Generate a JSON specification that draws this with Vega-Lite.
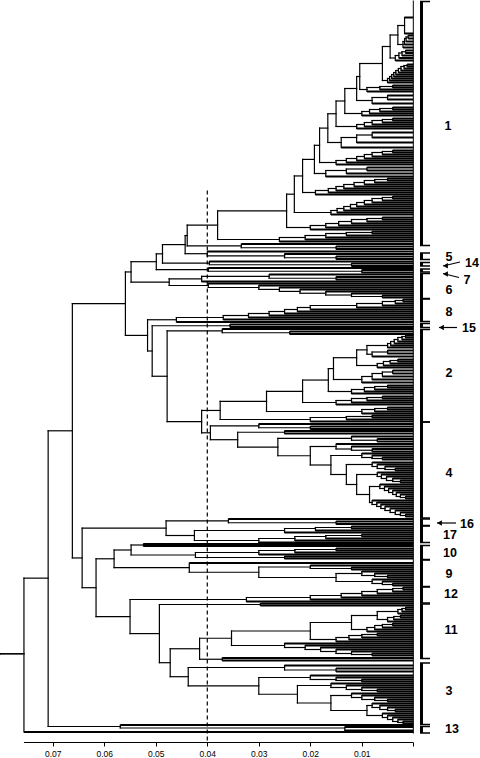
{
"$schema":"https://vega.github.io/schema/vega-lite/v6.json",
"width":480,"height":742,
"autosize":{"type":"none"},
"padding":{"left":0,"top":0,"right":0,"bottom":16},
"background":"white",
"config":{"view":{"stroke":null},"font":"Liberation Sans",
 "axisX":{"domain":false,"grid":false,"ticks":true,"tickSize":4,"tickColor":"black","tickWidth":1,"labelFontSize":8.5,"labelFont":"Liberation Sans","labelColor":"black","labelPadding":3,"labelFlush":false}},
"datasets":{
"tree":[
{"h":0.0802,"a":653.3,"b":653.3,"ha":0.0756,"hb":0.0756},
{"h":0.0756,"a":577.65,"b":731.5,"ha":0.0709,"hb":0},
{"h":0.0709,"a":430.3,"b":726,"ha":0.0662,"hb":0.0569},
{"h":0.0569,"a":724.5,"b":727.5,"ha":0,"hb":0.0133},
{"h":0.0133,"a":726.5,"b":730,"ha":0,"hb":0},
{"h":0.0662,"a":303.2,"b":557.45,"ha":0.0559,"hb":0.0643},
{"h":0.0559,"a":271.45,"b":334.9,"ha":0.0548,"hb":0.0516},
{"h":0.0548,"a":261.2,"b":281.7,"ha":0.0499,"hb":0.0474},
{"h":0.0499,"a":253.35,"b":269.1,"ha":0.0487,"hb":0.0398},
{"h":0.0487,"a":244.1,"b":262.6,"ha":0.0443,"hb":0.0396},
{"h":0.0443,"a":235.05,"b":253.2,"ha":0.0439,"hb":0.0400},
{"h":0.0439,"a":224.7,"b":245.4,"ha":0.0380,"hb":0.0334},
{"h":0.0150,"a":246,"b":248.5,"ha":0,"hb":0},
{"h":0.0334,"a":243.5,"b":247.25,"ha":0,"hb":0.0150},
{"h":0.0030,"a":25,"b":44,"ha":0.0017,"hb":0.0020},
{"h":0.0045,"a":34.5,"b":57.5,"ha":0.0030,"hb":0.0035},
{"h":0.0060,"a":46,"b":80,"ha":0.0045,"hb":0.0050},
{"h":0.0104,"a":63,"b":89,"ha":0.0060,"hb":0.0090},
{"h":0.0110,"a":76,"b":100,"ha":0.0104,"hb":0.0080},
{"h":0.0133,"a":88,"b":113,"ha":0.0110,"hb":0.0100},
{"h":0.0150,"a":100.5,"b":126,"ha":0.0133,"hb":0.0110},
{"h":0.0166,"a":113.25,"b":142,"ha":0.0150,"hb":0.0140},
{"h":0.0182,"a":127.6,"b":162,"ha":0.0166,"hb":0.0150},
{"h":0.0192,"a":144.8,"b":173,"ha":0.0182,"hb":0.0170},
{"h":0.0215,"a":158.9,"b":192,"ha":0.0192,"hb":0.0190},
{"h":0.0231,"a":175.45,"b":212,"ha":0.0215,"hb":0.0160},
{"h":0.0246,"a":193.7,"b":227,"ha":0.0231,"hb":0.0200},
{"h":0.0380,"a":210.35,"b":239,"ha":0.0246,"hb":0.0260},
{"h":0.0017,"a":17,"b":33,"ha":0,"hb":0},
{"h":0.0010,"a":35,"b":38,"ha":0,"hb":0},
{"h":0.0014,"a":36.5,"b":41,"ha":0.0010,"hb":0},
{"h":0.0017,"a":38,"b":44,"ha":0.0014,"hb":0},
{"h":0.0020,"a":41,"b":47,"ha":0.0017,"hb":0},
{"h":0.0015,"a":50,"b":52.5,"ha":0,"hb":0},
{"h":0.0022,"a":51.25,"b":55,"ha":0.0015,"hb":0},
{"h":0.0028,"a":52.5,"b":57.5,"ha":0.0022,"hb":0},
{"h":0.0035,"a":55,"b":60,"ha":0.0028,"hb":0},
{"h":0.0012,"a":64,"b":66,"ha":0,"hb":0},
{"h":0.0018,"a":65,"b":68,"ha":0.0012,"hb":0},
{"h":0.0024,"a":66,"b":70,"ha":0.0018,"hb":0},
{"h":0.0029,"a":68,"b":72,"ha":0.0024,"hb":0},
{"h":0.0034,"a":70,"b":74,"ha":0.0029,"hb":0},
{"h":0.0038,"a":72,"b":76,"ha":0.0034,"hb":0},
{"h":0.0042,"a":74,"b":78,"ha":0.0038,"hb":0},
{"h":0.0046,"a":76,"b":80,"ha":0.0042,"hb":0},
{"h":0.0050,"a":78,"b":82,"ha":0.0046,"hb":0},
{"h":0.0040,"a":85,"b":87,"ha":0,"hb":0},
{"h":0.0065,"a":86,"b":89,"ha":0.0040,"hb":0},
{"h":0.0090,"a":87,"b":91,"ha":0.0065,"hb":0},
{"h":0.0050,"a":95,"b":99,"ha":0,"hb":0},
{"h":0.0080,"a":97,"b":103,"ha":0.0050,"hb":0},
{"h":0.0040,"a":107,"b":109,"ha":0,"hb":0},
{"h":0.0065,"a":108,"b":111,"ha":0.0040,"hb":0},
{"h":0.0085,"a":109,"b":113,"ha":0.0065,"hb":0},
{"h":0.0100,"a":111,"b":115,"ha":0.0085,"hb":0},
{"h":0.0040,"a":118,"b":120,"ha":0,"hb":0},
{"h":0.0060,"a":119,"b":122,"ha":0.0040,"hb":0},
{"h":0.0080,"a":120,"b":124,"ha":0.0060,"hb":0},
{"h":0.0095,"a":122,"b":126,"ha":0.0080,"hb":0},
{"h":0.0110,"a":124,"b":128,"ha":0.0095,"hb":0},
{"h":0.0080,"a":132,"b":137,"ha":0,"hb":0},
{"h":0.0110,"a":134.5,"b":142,"ha":0.0080,"hb":0},
{"h":0.0140,"a":137,"b":147,"ha":0.0110,"hb":0},
{"h":0.0040,"a":150,"b":152,"ha":0,"hb":0},
{"h":0.0060,"a":151,"b":154,"ha":0.0040,"hb":0},
{"h":0.0080,"a":152,"b":156,"ha":0.0060,"hb":0},
{"h":0.0095,"a":154,"b":158,"ha":0.0080,"hb":0},
{"h":0.0110,"a":156,"b":160,"ha":0.0095,"hb":0},
{"h":0.0130,"a":158,"b":162,"ha":0.0110,"hb":0},
{"h":0.0150,"a":160,"b":164,"ha":0.0130,"hb":0},
{"h":0.0090,"a":167,"b":170,"ha":0,"hb":0},
{"h":0.0130,"a":168.5,"b":173,"ha":0.0090,"hb":0},
{"h":0.0170,"a":170,"b":176,"ha":0.0130,"hb":0},
{"h":0.0050,"a":178,"b":180,"ha":0,"hb":0},
{"h":0.0075,"a":179,"b":182,"ha":0.0050,"hb":0},
{"h":0.0095,"a":180,"b":184,"ha":0.0075,"hb":0},
{"h":0.0115,"a":182,"b":186,"ha":0.0095,"hb":0},
{"h":0.0135,"a":184,"b":188,"ha":0.0115,"hb":0},
{"h":0.0150,"a":186,"b":190,"ha":0.0135,"hb":0},
{"h":0.0165,"a":188,"b":192,"ha":0.0150,"hb":0},
{"h":0.0190,"a":190,"b":194,"ha":0.0165,"hb":0},
{"h":0.0040,"a":196,"b":198,"ha":0,"hb":0},
{"h":0.0060,"a":197,"b":200,"ha":0.0040,"hb":0},
{"h":0.0080,"a":198,"b":202,"ha":0.0060,"hb":0},
{"h":0.0095,"a":200,"b":204,"ha":0.0080,"hb":0},
{"h":0.0110,"a":202,"b":206,"ha":0.0095,"hb":0},
{"h":0.0122,"a":204,"b":208,"ha":0.0110,"hb":0},
{"h":0.0135,"a":206,"b":210,"ha":0.0122,"hb":0},
{"h":0.0148,"a":208,"b":212,"ha":0.0135,"hb":0},
{"h":0.0160,"a":210,"b":214,"ha":0.0148,"hb":0},
{"h":0.0060,"a":217,"b":219,"ha":0,"hb":0},
{"h":0.0090,"a":218,"b":221,"ha":0.0060,"hb":0},
{"h":0.0120,"a":219,"b":223,"ha":0.0090,"hb":0},
{"h":0.0145,"a":221,"b":225,"ha":0.0120,"hb":0},
{"h":0.0170,"a":223,"b":227,"ha":0.0145,"hb":0},
{"h":0.0200,"a":225,"b":229,"ha":0.0170,"hb":0},
{"h":0.0080,"a":231,"b":233,"ha":0,"hb":0},
{"h":0.0130,"a":232,"b":235,"ha":0.0080,"hb":0},
{"h":0.0170,"a":233,"b":237,"ha":0.0130,"hb":0},
{"h":0.0210,"a":235,"b":239,"ha":0.0170,"hb":0},
{"h":0.0260,"a":237,"b":241,"ha":0.0210,"hb":0},
{"h":0.0150,"a":256,"b":258.5,"ha":0,"hb":0},
{"h":0.0250,"a":253.5,"b":257.25,"ha":0,"hb":0.0150},
{"h":0.0400,"a":251,"b":255.4,"ha":0,"hb":0.0250},
{"h":0.0120,"a":263,"b":265.5,"ha":0,"hb":0},
{"h":0.0396,"a":261,"b":264.25,"ha":0,"hb":0.0120},
{"h":0.0100,"a":269.5,"b":272,"ha":0,"hb":0},
{"h":0.0398,"a":267.5,"b":270.75,"ha":0,"hb":0.0100},
{"h":0.0150,"a":276.5,"b":279,"ha":0,"hb":0},
{"h":0.0280,"a":274,"b":277.75,"ha":0,"hb":0.0150},
{"h":0.0411,"a":275.9,"b":281,"ha":0.0280,"hb":0},
{"h":0.0060,"a":295,"b":297,"ha":0,"hb":0},
{"h":0.0120,"a":293,"b":296,"ha":0,"hb":0.0060},
{"h":0.0170,"a":291,"b":294.5,"ha":0,"hb":0.0120},
{"h":0.0220,"a":289,"b":292.75,"ha":0,"hb":0.0170},
{"h":0.0260,"a":287,"b":290.9,"ha":0,"hb":0.0220},
{"h":0.0300,"a":285,"b":288.9,"ha":0,"hb":0.0260},
{"h":0.0398,"a":283,"b":287,"ha":0,"hb":0.0300},
{"h":0.0474,"a":278.45,"b":285,"ha":0.0411,"hb":0.0398},
{"h":0.0020,"a":299,"b":301,"ha":0,"hb":0},
{"h":0.0035,"a":300,"b":303,"ha":0.0020,"hb":0},
{"h":0.0060,"a":301,"b":305,"ha":0.0035,"hb":0},
{"h":0.0110,"a":303,"b":307,"ha":0.0060,"hb":0},
{"h":0.0200,"a":305,"b":309,"ha":0.0110,"hb":0},
{"h":0.0225,"a":307,"b":311,"ha":0.0200,"hb":0},
{"h":0.0250,"a":309,"b":313,"ha":0.0225,"hb":0},
{"h":0.0280,"a":311,"b":315,"ha":0.0250,"hb":0},
{"h":0.0320,"a":313,"b":317,"ha":0.0280,"hb":0},
{"h":0.0369,"a":315,"b":319,"ha":0.0320,"hb":0},
{"h":0.0460,"a":317,"b":321.5,"ha":0.0369,"hb":0},
{"h":0.0356,"a":324,"b":326.5,"ha":0,"hb":0},
{"h":0.0240,"a":331,"b":333.5,"ha":0,"hb":0},
{"h":0.0371,"a":328.5,"b":332.25,"ha":0,"hb":0.0240},
{"h":0.0516,"a":319.25,"b":350.5,"ha":0.0460,"hb":0.0507},
{"h":0.0507,"a":325.25,"b":375.75,"ha":0.0356,"hb":0.0478},
{"h":0.0478,"a":330.4,"b":421.1,"ha":0.0371,"hb":0.0411},
{"h":0.0411,"a":409.95,"b":432.3,"ha":0.0375,"hb":0.0394},
{"h":0.0015,"a":335,"b":337,"ha":0,"hb":0},
{"h":0.0022,"a":336,"b":339,"ha":0.0015,"hb":0},
{"h":0.0030,"a":337,"b":341,"ha":0.0022,"hb":0},
{"h":0.0037,"a":339,"b":343,"ha":0.0030,"hb":0},
{"h":0.0044,"a":341,"b":345,"ha":0.0037,"hb":0},
{"h":0.0050,"a":343,"b":347,"ha":0.0044,"hb":0},
{"h":0.0050,"a":350,"b":353,"ha":0,"hb":0},
{"h":0.0080,"a":351.5,"b":356,"ha":0.0050,"hb":0},
{"h":0.0030,"a":359,"b":361,"ha":0,"hb":0},
{"h":0.0045,"a":360,"b":363,"ha":0.0030,"hb":0},
{"h":0.0058,"a":361,"b":365,"ha":0.0045,"hb":0},
{"h":0.0070,"a":363,"b":367,"ha":0.0058,"hb":0},
{"h":0.0040,"a":370,"b":373,"ha":0,"hb":0},
{"h":0.0060,"a":371.5,"b":376,"ha":0.0040,"hb":0},
{"h":0.0080,"a":373,"b":379,"ha":0.0060,"hb":0},
{"h":0.0100,"a":376,"b":382,"ha":0.0080,"hb":0},
{"h":0.0050,"a":385,"b":387,"ha":0,"hb":0},
{"h":0.0075,"a":386,"b":389,"ha":0.0050,"hb":0},
{"h":0.0095,"a":387,"b":391,"ha":0.0075,"hb":0},
{"h":0.0120,"a":389,"b":393,"ha":0.0095,"hb":0},
{"h":0.0060,"a":396,"b":398,"ha":0,"hb":0},
{"h":0.0090,"a":397,"b":400,"ha":0.0060,"hb":0},
{"h":0.0120,"a":398,"b":402,"ha":0.0090,"hb":0},
{"h":0.0150,"a":400,"b":404,"ha":0.0120,"hb":0},
{"h":0.0050,"a":407,"b":409,"ha":0,"hb":0},
{"h":0.0075,"a":408,"b":411,"ha":0.0050,"hb":0},
{"h":0.0100,"a":409,"b":413,"ha":0.0075,"hb":0},
{"h":0.0080,"a":415,"b":417,"ha":0,"hb":0},
{"h":0.0130,"a":416,"b":419,"ha":0.0080,"hb":0},
{"h":0.0200,"a":417,"b":421,"ha":0.0130,"hb":0},
{"h":0.0090,"a":345,"b":353.75,"ha":0.0050,"hb":0.0080},
{"h":0.0110,"a":349.4,"b":365,"ha":0.0090,"hb":0.0070},
{"h":0.0155,"a":357.2,"b":379,"ha":0.0110,"hb":0.0100},
{"h":0.0165,"a":368.1,"b":391,"ha":0.0155,"hb":0.0120},
{"h":0.0215,"a":379.55,"b":402,"ha":0.0165,"hb":0.0150},
{"h":0.0285,"a":390.8,"b":411,"ha":0.0215,"hb":0.0100},
{"h":0.0375,"a":400.9,"b":419,"ha":0.0285,"hb":0.0200},
{"h":0.0200,"a":426,"b":428.5,"ha":0,"hb":0},
{"h":0.0300,"a":423.5,"b":427.25,"ha":0,"hb":0.0200},
{"h":0.0250,"a":430.5,"b":433,"ha":0,"hb":0},
{"h":0.0070,"a":438.5,"b":441,"ha":0,"hb":0},
{"h":0.0120,"a":436,"b":439.75,"ha":0,"hb":0.0070},
{"h":0.0080,"a":448.5,"b":451,"ha":0,"hb":0},
{"h":0.0120,"a":446,"b":449.75,"ha":0,"hb":0.0080},
{"h":0.0150,"a":443.5,"b":448.5,"ha":0,"hb":0.0120},
{"h":0.0060,"a":457,"b":459,"ha":0,"hb":0},
{"h":0.0080,"a":455,"b":458,"ha":0,"hb":0.0060},
{"h":0.0100,"a":453,"b":457,"ha":0,"hb":0.0080},
{"h":0.0035,"a":468,"b":470,"ha":0,"hb":0},
{"h":0.0055,"a":466,"b":469,"ha":0,"hb":0.0035},
{"h":0.0070,"a":464,"b":468,"ha":0,"hb":0.0055},
{"h":0.0080,"a":462,"b":466,"ha":0,"hb":0.0070},
{"h":0.0025,"a":480,"b":482,"ha":0,"hb":0},
{"h":0.0040,"a":478,"b":481,"ha":0,"hb":0.0025},
{"h":0.0052,"a":476,"b":480,"ha":0,"hb":0.0040},
{"h":0.0062,"a":474,"b":478,"ha":0,"hb":0.0052},
{"h":0.0070,"a":472,"b":476,"ha":0,"hb":0.0062},
{"h":0.0015,"a":496,"b":498,"ha":0,"hb":0},
{"h":0.0025,"a":494,"b":497,"ha":0,"hb":0.0015},
{"h":0.0033,"a":492,"b":496,"ha":0,"hb":0.0025},
{"h":0.0040,"a":490,"b":494,"ha":0,"hb":0.0033},
{"h":0.0048,"a":488,"b":492,"ha":0,"hb":0.0040},
{"h":0.0056,"a":486,"b":490,"ha":0,"hb":0.0048},
{"h":0.0065,"a":484,"b":488,"ha":0,"hb":0.0056},
{"h":0.0015,"a":514,"b":516,"ha":0,"hb":0},
{"h":0.0025,"a":512,"b":515,"ha":0,"hb":0.0015},
{"h":0.0035,"a":510,"b":514,"ha":0,"hb":0.0025},
{"h":0.0045,"a":508,"b":512,"ha":0,"hb":0.0035},
{"h":0.0055,"a":506,"b":510,"ha":0,"hb":0.0045},
{"h":0.0063,"a":504,"b":508,"ha":0,"hb":0.0055},
{"h":0.0071,"a":502,"b":506,"ha":0,"hb":0.0063},
{"h":0.0080,"a":500,"b":504,"ha":0,"hb":0.0071},
{"h":0.0085,"a":486,"b":502,"ha":0.0065,"hb":0.0080},
{"h":0.0110,"a":474,"b":494,"ha":0.0070,"hb":0.0085},
{"h":0.0130,"a":464,"b":484,"ha":0.0080,"hb":0.0110},
{"h":0.0160,"a":455,"b":474,"ha":0.0100,"hb":0.0130},
{"h":0.0200,"a":446,"b":464.5,"ha":0.0150,"hb":0.0160},
{"h":0.0263,"a":437.9,"b":455.25,"ha":0.0120,"hb":0.0200},
{"h":0.0341,"a":431.75,"b":446.6,"ha":0.0250,"hb":0.0263},
{"h":0.0394,"a":425.4,"b":439.2,"ha":0.0300,"hb":0.0341},
{"h":0.0643,"a":527.7,"b":587.2,"ha":0.0480,"hb":0.0616},
{"h":0.0480,"a":520.4,"b":535,"ha":0.0359,"hb":0.0425},
{"h":0.0150,"a":521,"b":523.5,"ha":0,"hb":0},
{"h":0.0359,"a":518.5,"b":522.25,"ha":0,"hb":0.0150},
{"h":0.0120,"a":526,"b":528,"ha":0,"hb":0},
{"h":0.0190,"a":527,"b":530,"ha":0.0120,"hb":0},
{"h":0.0250,"a":528,"b":532,"ha":0.0190,"hb":0},
{"h":0.0100,"a":534,"b":536,"ha":0,"hb":0},
{"h":0.0170,"a":535,"b":538,"ha":0.0100,"hb":0},
{"h":0.0230,"a":536,"b":540,"ha":0.0170,"hb":0},
{"h":0.0300,"a":538,"b":542,"ha":0.0230,"hb":0},
{"h":0.0425,"a":530,"b":540,"ha":0.0250,"hb":0.0300},
{"h":0.0616,"a":558.3,"b":616.05,"ha":0.0581,"hb":0.0550},
{"h":0.0581,"a":549.5,"b":567.1,"ha":0.0548,"hb":0.0435},
{"h":0.0548,"a":544.5,"b":554.5,"ha":0.0524,"hb":0.0423},
{"h":0.0524,"a":543.5,"b":545.5,"ha":0,"hb":0},
{"h":0.0150,"a":548,"b":550,"ha":0,"hb":0},
{"h":0.0230,"a":549,"b":552,"ha":0.0150,"hb":0},
{"h":0.0300,"a":550,"b":554,"ha":0.0230,"hb":0},
{"h":0.0250,"a":556,"b":558,"ha":0,"hb":0},
{"h":0.0423,"a":552,"b":557,"ha":0.0300,"hb":0.0250},
{"h":0.0040,"a":583,"b":585,"ha":0,"hb":0},
{"h":0.0060,"a":581,"b":584,"ha":0,"hb":0.0040},
{"h":0.0080,"a":579,"b":583,"ha":0,"hb":0.0060},
{"h":0.0050,"a":575,"b":577,"ha":0,"hb":0},
{"h":0.0075,"a":573,"b":576,"ha":0,"hb":0.0050},
{"h":0.0100,"a":571,"b":575,"ha":0,"hb":0.0075},
{"h":0.0120,"a":567,"b":569,"ha":0,"hb":0},
{"h":0.0200,"a":565,"b":568,"ha":0,"hb":0.0120},
{"h":0.0150,"a":573,"b":581,"ha":0.0100,"hb":0.0080},
{"h":0.0300,"a":566.5,"b":577,"ha":0.0200,"hb":0.0150},
{"h":0.0435,"a":562.5,"b":571.75,"ha":0,"hb":0.0300},
{"h":0.0020,"a":587,"b":589,"ha":0,"hb":0},
{"h":0.0040,"a":588,"b":591,"ha":0.0020,"hb":0},
{"h":0.0070,"a":589,"b":593,"ha":0.0040,"hb":0},
{"h":0.0100,"a":591,"b":595,"ha":0.0070,"hb":0},
{"h":0.0140,"a":593,"b":597,"ha":0.0100,"hb":0},
{"h":0.0200,"a":595,"b":599,"ha":0.0140,"hb":0},
{"h":0.0324,"a":597,"b":601,"ha":0.0200,"hb":0},
{"h":0.0550,"a":599,"b":633.1,"ha":0.0324,"hb":0.0493},
{"h":0.0493,"a":604,"b":662.2,"ha":0.0297,"hb":0.0472},
{"h":0.0297,"a":603,"b":605,"ha":0,"hb":0},
{"h":0.0472,"a":648.25,"b":676.2,"ha":0.0415,"hb":0.0437},
{"h":0.0415,"a":637.75,"b":658.75,"ha":0.0353,"hb":0.0371},
{"h":0.0371,"a":657.5,"b":660,"ha":0,"hb":0},
{"h":0.0015,"a":607,"b":609,"ha":0,"hb":0},
{"h":0.0022,"a":608,"b":611,"ha":0.0015,"hb":0},
{"h":0.0030,"a":609,"b":613,"ha":0.0022,"hb":0},
{"h":0.0025,"a":615,"b":617,"ha":0,"hb":0},
{"h":0.0038,"a":616,"b":619,"ha":0.0025,"hb":0},
{"h":0.0050,"a":617,"b":621,"ha":0.0038,"hb":0},
{"h":0.0040,"a":623,"b":625,"ha":0,"hb":0},
{"h":0.0060,"a":624,"b":627,"ha":0.0040,"hb":0},
{"h":0.0075,"a":625,"b":629,"ha":0.0060,"hb":0},
{"h":0.0090,"a":627,"b":631,"ha":0.0075,"hb":0},
{"h":0.0070,"a":633,"b":635,"ha":0,"hb":0},
{"h":0.0100,"a":634,"b":637,"ha":0.0070,"hb":0},
{"h":0.0125,"a":635,"b":639,"ha":0.0100,"hb":0},
{"h":0.0150,"a":637,"b":641,"ha":0.0125,"hb":0},
{"h":0.0080,"a":653,"b":655,"ha":0,"hb":0},
{"h":0.0120,"a":651,"b":654,"ha":0,"hb":0.0080},
{"h":0.0150,"a":649,"b":653,"ha":0,"hb":0.0120},
{"h":0.0180,"a":647,"b":651,"ha":0,"hb":0.0150},
{"h":0.0210,"a":645,"b":649,"ha":0,"hb":0.0180},
{"h":0.0250,"a":643,"b":647,"ha":0,"hb":0.0210},
{"h":0.0070,"a":611,"b":619,"ha":0.0030,"hb":0.0050},
{"h":0.0120,"a":615,"b":629,"ha":0.0070,"hb":0.0090},
{"h":0.0200,"a":622,"b":639,"ha":0.0120,"hb":0.0150},
{"h":0.0353,"a":630.5,"b":645,"ha":0.0200,"hb":0.0250},
{"h":0.0020,"a":721,"b":723,"ha":0,"hb":0},
{"h":0.0030,"a":719,"b":722,"ha":0,"hb":0.0020},
{"h":0.0040,"a":717,"b":721,"ha":0,"hb":0.0030},
{"h":0.0050,"a":715,"b":719,"ha":0,"hb":0.0040},
{"h":0.0060,"a":713,"b":717,"ha":0,"hb":0.0050},
{"h":0.0035,"a":709,"b":711,"ha":0,"hb":0},
{"h":0.0050,"a":707,"b":710,"ha":0,"hb":0.0035},
{"h":0.0065,"a":705,"b":709,"ha":0,"hb":0.0050},
{"h":0.0080,"a":703,"b":707,"ha":0,"hb":0.0065},
{"h":0.0050,"a":699,"b":701,"ha":0,"hb":0},
{"h":0.0075,"a":697,"b":700,"ha":0,"hb":0.0050},
{"h":0.0100,"a":695,"b":699,"ha":0,"hb":0.0075},
{"h":0.0120,"a":693,"b":697,"ha":0,"hb":0.0100},
{"h":0.0070,"a":689,"b":691,"ha":0,"hb":0},
{"h":0.0100,"a":687,"b":690,"ha":0,"hb":0.0070},
{"h":0.0130,"a":685,"b":689,"ha":0,"hb":0.0100},
{"h":0.0160,"a":683,"b":687,"ha":0,"hb":0.0130},
{"h":0.0100,"a":679,"b":681,"ha":0,"hb":0},
{"h":0.0150,"a":677,"b":680,"ha":0,"hb":0.0100},
{"h":0.0200,"a":675,"b":679,"ha":0,"hb":0.0150},
{"h":0.0150,"a":668,"b":671,"ha":0,"hb":0},
{"h":0.0250,"a":665,"b":669.5,"ha":0,"hb":0.0150},
{"h":0.0090,"a":705,"b":715,"ha":0.0080,"hb":0.0060},
{"h":0.0160,"a":695,"b":710,"ha":0.0120,"hb":0.0090},
{"h":0.0225,"a":685,"b":702.5,"ha":0.0160,"hb":0.0160},
{"h":0.0300,"a":677,"b":693.75,"ha":0.0200,"hb":0.0225},
{"h":0.0437,"a":667,"b":685.4,"ha":0.0250,"hb":0.0300}
],
"brackets":[
{"y1":1,"y2":245},{"y1":252.5,"y2":259},{"y1":262,"y2":265.5},{"y1":268.5,"y2":271.5},{"y1":273,"y2":298},{"y1":298.5,"y2":321},{"y1":323,"y2":327},{"y1":329,"y2":421.5},{"y1":421.5,"y2":517.5},{"y1":518.5,"y2":525},{"y1":525.5,"y2":542},{"y1":545,"y2":559},{"y1":559.5,"y2":586},{"y1":586.5,"y2":602.5},{"y1":603.5,"y2":658},{"y1":662.5,"y2":724},{"y1":726,"y2":732.5}
],
"labels":[
{"t":"1","x":-0.00674,"y":125},{"t":"5","x":-0.00693,"y":256},{"t":"14","x":-0.0114,"y":262},{"t":"7","x":-0.01043,"y":279},{"t":"6","x":-0.00693,"y":289},{"t":"8","x":-0.00693,"y":311},{"t":"15","x":-0.01082,"y":327},{"t":"2","x":-0.00693,"y":372},{"t":"4","x":-0.00693,"y":472},{"t":"16","x":-0.01043,"y":523},{"t":"17","x":-0.00713,"y":534},{"t":"10","x":-0.00713,"y":552},{"t":"9","x":-0.00693,"y":573},{"t":"12","x":-0.00732,"y":593},{"t":"11","x":-0.00732,"y":629},{"t":"3","x":-0.00693,"y":690},{"t":"13","x":-0.00751,"y":728}
],
"arrows":[
{"x1":-0.00907,"y1":261.5,"x2":-0.00577,"y2":265.5,"hx":-0.00625,"hy":265.2},
{"x1":-0.00887,"y1":277,"x2":-0.00577,"y2":273,"hx":-0.00625,"hy":273.4},
{"x1":-0.00849,"y1":327,"x2":-0.00499,"y2":327,"hx":-0.00548,"hy":327},
{"x1":-0.00829,"y1":522.5,"x2":-0.0046,"y2":522.5,"hx":-0.00509,"hy":522.5}
]
},
"layer":[
{"data":{"name":"tree"},"mark":{"type":"rule","color":"black","strokeWidth":1.2,"strokeCap":"square"},
 "encoding":{
  "x":{"field":"h","type":"quantitative","scale":{"domain":[-0.01295,0.08025],"reverse":true,"nice":false,"zero":false},
   "axis":{"values":[0,0.01,0.02,0.03,0.04,0.05,0.06,0.07],"labelExpr":"datum.value == 0 ? '' : format(datum.value, '.2f')","title":null}},
  "y":{"field":"a","type":"quantitative","scale":{"domain":[-0.5,741.5],"reverse":true,"nice":false,"zero":false},"axis":null},
  "y2":{"field":"b"}}},
{"data":{"name":"tree"},"transform":[{"filter":"datum.ha > 0"}],"mark":{"type":"rule","color":"black","strokeWidth":1.2,"strokeCap":"square"},
 "encoding":{
  "x":{"field":"ha","type":"quantitative","scale":{"domain":[-0.01295,0.08025],"reverse":true,"nice":false,"zero":false},
   "axis":{"values":[0,0.01,0.02,0.03,0.04,0.05,0.06,0.07],"labelExpr":"datum.value == 0 ? '' : format(datum.value, '.2f')","title":null}},
  "x2":{"field":"h"},
  "y":{"field":"a","type":"quantitative","scale":{"domain":[-0.5,741.5],"reverse":true,"nice":false,"zero":false},"axis":null}}},
{"data":{"name":"tree"},"transform":[{"filter":"datum.ha == 0"}],"mark":{"type":"rule","color":"black","strokeWidth":2,"strokeCap":"butt"},
 "encoding":{
  "x":{"field":"ha","type":"quantitative","scale":{"domain":[-0.01295,0.08025],"reverse":true,"nice":false,"zero":false},
   "axis":{"values":[0,0.01,0.02,0.03,0.04,0.05,0.06,0.07],"labelExpr":"datum.value == 0 ? '' : format(datum.value, '.2f')","title":null}},
  "x2":{"field":"h"},
  "y":{"field":"a","type":"quantitative","scale":{"domain":[-0.5,741.5],"reverse":true,"nice":false,"zero":false},"axis":null}}},
{"data":{"name":"tree"},"transform":[{"filter":"datum.hb > 0"}],"mark":{"type":"rule","color":"black","strokeWidth":1.2,"strokeCap":"square"},
 "encoding":{
  "x":{"field":"hb","type":"quantitative","scale":{"domain":[-0.01295,0.08025],"reverse":true,"nice":false,"zero":false},
   "axis":{"values":[0,0.01,0.02,0.03,0.04,0.05,0.06,0.07],"labelExpr":"datum.value == 0 ? '' : format(datum.value, '.2f')","title":null}},
  "x2":{"field":"h"},
  "y":{"field":"b","type":"quantitative","scale":{"domain":[-0.5,741.5],"reverse":true,"nice":false,"zero":false},"axis":null}}},
{"data":{"name":"tree"},"transform":[{"filter":"datum.hb == 0"}],"mark":{"type":"rule","color":"black","strokeWidth":2,"strokeCap":"butt"},
 "encoding":{
  "x":{"field":"hb","type":"quantitative","scale":{"domain":[-0.01295,0.08025],"reverse":true,"nice":false,"zero":false},
   "axis":{"values":[0,0.01,0.02,0.03,0.04,0.05,0.06,0.07],"labelExpr":"datum.value == 0 ? '' : format(datum.value, '.2f')","title":null}},
  "x2":{"field":"h"},
  "y":{"field":"b","type":"quantitative","scale":{"domain":[-0.5,741.5],"reverse":true,"nice":false,"zero":false},"axis":null}}},
{"data":{"values":[{}]},"mark":{"type":"rule","color":"black","strokeWidth":1},
 "encoding":{
  "x":{"datum":0,"type":"quantitative","scale":{"domain":[-0.01295,0.08025],"reverse":true,"nice":false,"zero":false},
   "axis":{"values":[0,0.01,0.02,0.03,0.04,0.05,0.06,0.07],"labelExpr":"datum.value == 0 ? '' : format(datum.value, '.2f')","title":null}},
  "y":{"datum":0,"type":"quantitative","scale":{"domain":[-0.5,741.5],"reverse":true,"nice":false,"zero":false},"axis":null},
  "y2":{"datum":733}}},
{"data":{"values":[{}]},"mark":{"type":"rule","color":"black","strokeWidth":1},
 "encoding":{
  "x":{"datum":0.0756,"type":"quantitative","scale":{"domain":[-0.01295,0.08025],"reverse":true,"nice":false,"zero":false},
   "axis":{"values":[0,0.01,0.02,0.03,0.04,0.05,0.06,0.07],"labelExpr":"datum.value == 0 ? '' : format(datum.value, '.2f')","title":null}},
  "x2":{"datum":0},
  "y":{"datum":742,"type":"quantitative","scale":{"domain":[-0.5,741.5],"reverse":true,"nice":false,"zero":false},"axis":null}}},
{"data":{"values":[{}]},"mark":{"type":"rule","color":"black","strokeWidth":1.2,"strokeDash":[4,3]},
 "encoding":{
  "x":{"datum":0.04,"type":"quantitative","scale":{"domain":[-0.01295,0.08025],"reverse":true,"nice":false,"zero":false},
   "axis":{"values":[0,0.01,0.02,0.03,0.04,0.05,0.06,0.07],"labelExpr":"datum.value == 0 ? '' : format(datum.value, '.2f')","title":null}},
  "y":{"datum":190,"type":"quantitative","scale":{"domain":[-0.5,741.5],"reverse":true,"nice":false,"zero":false},"axis":null},
  "y2":{"datum":742}}},
{"data":{"name":"brackets"},"mark":{"type":"rule","color":"black","strokeWidth":3},
 "encoding":{
  "x":{"datum":-0.00159,"type":"quantitative","scale":{"domain":[-0.01295,0.08025],"reverse":true,"nice":false,"zero":false},
   "axis":{"values":[0,0.01,0.02,0.03,0.04,0.05,0.06,0.07],"labelExpr":"datum.value == 0 ? '' : format(datum.value, '.2f')","title":null}},
  "y":{"field":"y1","type":"quantitative","scale":{"domain":[-0.5,741.5],"reverse":true,"nice":false,"zero":false},"axis":null},
  "y2":{"field":"y2"}}},
{"data":{"name":"brackets"},"mark":{"type":"rule","color":"black","strokeWidth":1.5},
 "encoding":{
  "x":{"datum":-0.0013,"type":"quantitative","scale":{"domain":[-0.01295,0.08025],"reverse":true,"nice":false,"zero":false},
   "axis":{"values":[0,0.01,0.02,0.03,0.04,0.05,0.06,0.07],"labelExpr":"datum.value == 0 ? '' : format(datum.value, '.2f')","title":null}},
  "x2":{"datum":-0.00324},
  "y":{"field":"y1","type":"quantitative","scale":{"domain":[-0.5,741.5],"reverse":true,"nice":false,"zero":false},"axis":null}}},
{"data":{"name":"brackets"},"mark":{"type":"rule","color":"black","strokeWidth":1.5},
 "encoding":{
  "x":{"datum":-0.0013,"type":"quantitative","scale":{"domain":[-0.01295,0.08025],"reverse":true,"nice":false,"zero":false},
   "axis":{"values":[0,0.01,0.02,0.03,0.04,0.05,0.06,0.07],"labelExpr":"datum.value == 0 ? '' : format(datum.value, '.2f')","title":null}},
  "x2":{"datum":-0.00324},
  "y":{"field":"y2","type":"quantitative","scale":{"domain":[-0.5,741.5],"reverse":true,"nice":false,"zero":false},"axis":null}}},
{"data":{"name":"arrows"},"mark":{"type":"rule","color":"black","strokeWidth":1.2},
 "encoding":{
  "x":{"field":"x1","type":"quantitative","scale":{"domain":[-0.01295,0.08025],"reverse":true,"nice":false,"zero":false},
   "axis":{"values":[0,0.01,0.02,0.03,0.04,0.05,0.06,0.07],"labelExpr":"datum.value == 0 ? '' : format(datum.value, '.2f')","title":null}},
  "x2":{"field":"x2"},
  "y":{"field":"y1","type":"quantitative","scale":{"domain":[-0.5,741.5],"reverse":true,"nice":false,"zero":false},"axis":null},
  "y2":{"field":"y2"}}},
{"data":{"name":"arrows"},"mark":{"type":"point","shape":"triangle-left","filled":true,"color":"black","size":30,"opacity":1},
 "encoding":{
  "x":{"field":"hx","type":"quantitative","scale":{"domain":[-0.01295,0.08025],"reverse":true,"nice":false,"zero":false},
   "axis":{"values":[0,0.01,0.02,0.03,0.04,0.05,0.06,0.07],"labelExpr":"datum.value == 0 ? '' : format(datum.value, '.2f')","title":null}},
  "y":{"field":"hy","type":"quantitative","scale":{"domain":[-0.5,741.5],"reverse":true,"nice":false,"zero":false},"axis":null}}},
{"data":{"name":"labels"},"mark":{"type":"text","font":"Liberation Sans","fontSize":12.5,"fontWeight":"bold","color":"black","align":"center","baseline":"middle"},
 "encoding":{
  "x":{"field":"x","type":"quantitative","scale":{"domain":[-0.01295,0.08025],"reverse":true,"nice":false,"zero":false},
   "axis":{"values":[0,0.01,0.02,0.03,0.04,0.05,0.06,0.07],"labelExpr":"datum.value == 0 ? '' : format(datum.value, '.2f')","title":null}},
  "y":{"field":"y","type":"quantitative","scale":{"domain":[-0.5,741.5],"reverse":true,"nice":false,"zero":false},"axis":null},
  "text":{"field":"t"}}}
]
}
